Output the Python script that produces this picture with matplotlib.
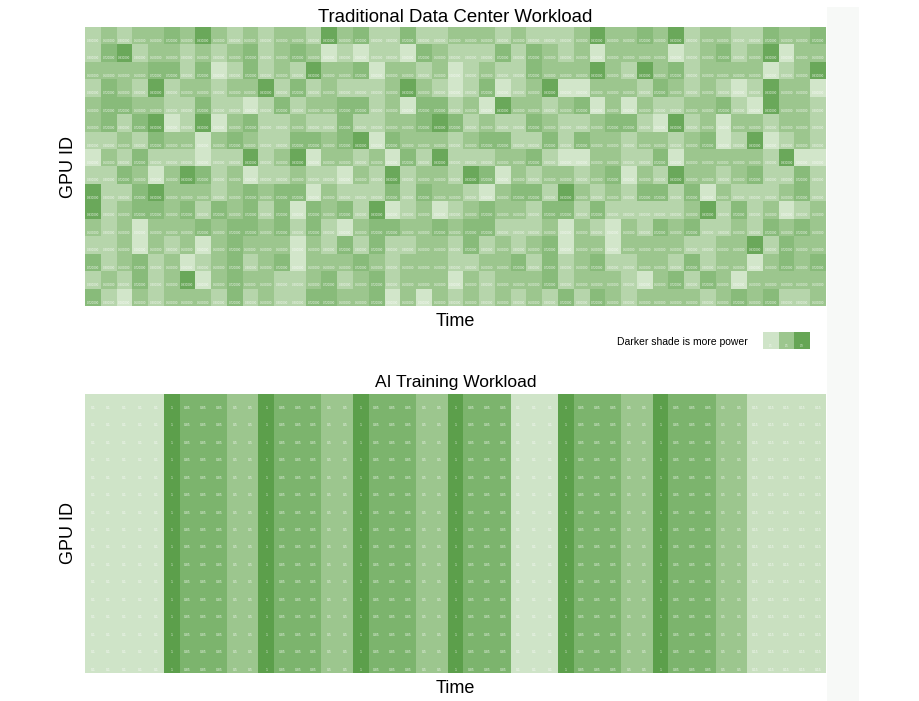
import numpy as np
import matplotlib
matplotlib.use('Agg')
import matplotlib.pyplot as plt
from matplotlib.colors import LinearSegmentedColormap
from matplotlib.patches import Rectangle

plt.rcParams['font.family'] = ['Liberation Sans', 'DejaVu Sans']

# Shade levels (1 = lightest, 5 = darkest)
# 16 GPUs (rows) x 47 time steps (columns), written in blocks of 12 columns
traditional_levels = [
    "232334353232 332534224223 332322235334 35233224334",
    "245233232342 343121221432 224243231333 31234235133",
    "333344241242 325334133231 232243335325 34233331235",
    "243252332335 242322235321 241235113332 43232125331",
    "344332242212 423344231442 315332341313 22334215332",
    "342451251342 232242233454 232243223442 15231332332",
    "223243313432 244345143332 344224243323 32341251232",
    "132422212252 351332314252 223342113322 41333332511",
    "224313542312 232213252332 541323323413 25332342242",
    "522453332343 441322242433 213442532324 42413222342",
    "523443424342 414342512312 343324424222 22352423123",
    "323133343443 424213443343 442223132132 43422324343",
    "223132313433 313242422332 423234133133 33223352433",
    "423423123423 413334323332 233424234223 32423313434",
    "232423513433 223423423331 323334233321 34243133333",
    "421323332423 224433413132 323232424323 33323434223",
]

# value given to each shade level
level_value = {1: 0.08, 2: 0.3, 3: 0.5, 4: 0.72, 5: 0.93}

# AI training: every GPU draws the same power at each time step
ai_columns = (
    [0.1] * 5
    + [1.0, 0.85, 0.85, 0.85, 0.5, 0.5] * 3
    + [1.0, 0.85, 0.85, 0.85]
    + [0.1] * 3
    + [1.0, 0.85, 0.85, 0.85, 0.5, 0.5] * 2
    + [0.15] * 5
)
n_gpus = 16

legend_values = [0.1, 0.5, 0.95]

# ---------------------------------------------------------------------------
trad = np.array([[level_value[int(c)] for c in row.replace(' ', '')]
                 for row in traditional_levels])
ai = np.tile(np.array(ai_columns), (n_gpus, 1))

cmap = LinearSegmentedColormap.from_list(
    'power', [(0.0, '#dcecd6'), (0.5, '#9dc78f'), (0.85, '#7db56e'), (1.0, '#5c9f4b')])


def draw_heatmap(ax, data, fmt, fontsize):
    ax.imshow(data, cmap=cmap, vmin=0, vmax=1, aspect='auto', interpolation='nearest')
    for i in range(data.shape[0]):
        for j in range(data.shape[1]):
            ax.text(j, i + 0.3, format(data[i, j], fmt), ha='center', va='center',
                    fontsize=fontsize, color='white', alpha=0.85)
    ax.set_xticks([])
    ax.set_yticks([])
    for s in ax.spines.values():
        s.set_visible(False)


fig = plt.figure(figsize=(9.2, 7.01), dpi=100)

# pale strip on the right
fig.patches.append(Rectangle((827 / 920, 0), 32 / 920, 1 - 7 / 701,
                             transform=fig.transFigure, facecolor='#f7f9f7',
                             edgecolor='none', zorder=0))

ax1 = fig.add_axes([85 / 920, 1 - 306 / 701, 741 / 920, 279 / 701])
draw_heatmap(ax1, trad, '.6f', 2.2)
ax1.set_title('Traditional Data Center Workload', fontsize=13.4, pad=3.5)
ax1.set_xlabel('Time', fontsize=13, labelpad=5)
ax1.set_ylabel('GPU ID', fontsize=13, labelpad=6)

ax2 = fig.add_axes([85 / 920, 1 - 673 / 701, 741 / 920, 279 / 701])
draw_heatmap(ax2, ai, 'g', 2.4)
ax2.set_title('AI Training Workload', fontsize=12.5, pad=5)
ax2.set_xlabel('Time', fontsize=13, labelpad=5)
ax2.set_ylabel('GPU ID', fontsize=13, labelpad=6)

# small legend swatch
axl = fig.add_axes([763 / 920, 1 - 349 / 701, 47 / 920, 17 / 701])
draw_heatmap(axl, np.array([legend_values]), '.1f', 1.8)
fig.text(748 / 920, 1 - 342 / 701, 'Darker shade is more power',
         ha='right', va='center', fontsize=7.5)

fig.savefig('out.png', dpi=100)
